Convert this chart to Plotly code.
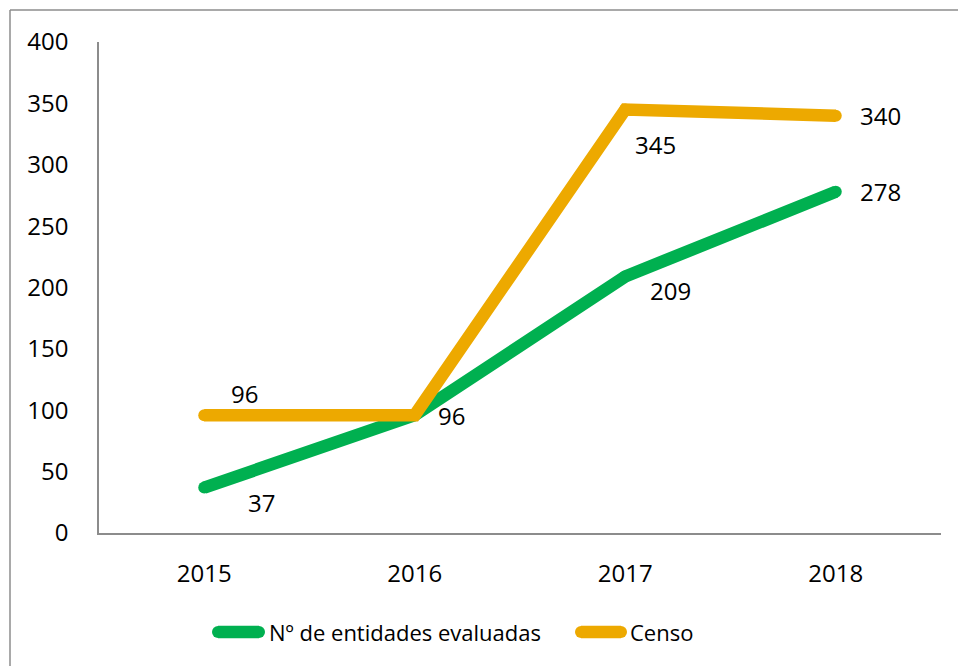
import plotly.graph_objects as go

years = ["2015", "2016", "2017", "2018"]
evaluadas = [37, 96, 209, 278]
censo = [96, 96, 345, 340]
y_ticks = [0, 50, 100, 150, 200, 250, 300, 350, 400]
series_names = ["Nº de entidades evaluadas", "Censo"]

green = "#00B050"
orange = "#EDA900"
font = "Open Sans"
frame_col = "#8c8c8c"

# plot area in screen px: x 99..941, y 42..533
PX0, PX1, PY0, PY1 = 99, 941, 42, 533


def px_x(p):
    return (p - PX0) / (PX1 - PX0)


def px_y(p):
    return (PY1 - p) / (PY1 - PY0)


fig = go.Figure()
fig.add_trace(go.Scatter(x=years, y=evaluadas, mode="lines+markers", name=series_names[0],
                         line=dict(color=green, width=12.5), marker=dict(color=green, size=12)))
fig.add_trace(go.Scatter(x=years, y=censo, mode="lines+markers", name=series_names[1],
                         line=dict(color=orange, width=12.5), marker=dict(color=orange, size=12)))

# label offsets (px)
g_off = [(57, -15), (37, 0), (45, -14), (45, 0)]
o_off = [(40, 22), (37, 0), (30, -35), (45, 0)]
for i, yr in enumerate(years):
    fig.add_annotation(x=i, y=evaluadas[i], text=str(evaluadas[i]), showarrow=False,
                       xshift=g_off[i][0], yshift=g_off[i][1], font=dict(size=24, color="black", family=font))
    if i != 1:
        fig.add_annotation(x=i, y=censo[i], text=str(censo[i]), showarrow=False,
                           xshift=o_off[i][0], yshift=o_off[i][1], font=dict(size=24, color="black", family=font))

# outer frame (left and top edges visible)
fig.add_shape(type="line", xref="paper", yref="paper", x0=px_x(10), x1=px_x(10),
              y0=px_y(10), y1=px_y(700), line=dict(color=frame_col, width=1.5))
fig.add_shape(type="line", xref="paper", yref="paper", x0=px_x(10), x1=px_x(1000),
              y0=px_y(10), y1=px_y(10), line=dict(color=frame_col, width=1.5))

# custom legend
leg = [(212, 265, 267, green), (575, 627, 628, orange)]
for (lx0, lx1, tx, col), name in zip(leg, series_names):
    fig.add_shape(type="line", xref="paper", yref="paper", x0=px_x(lx0 + 6), x1=px_x(lx1 - 6),
                  y0=px_y(632), y1=px_y(632), line=dict(color=col, width=12.5))
    fig.add_shape(type="circle", xref="paper", yref="paper", x0=px_x(lx0), x1=px_x(lx0 + 12),
                  y0=px_y(626), y1=px_y(638), line=dict(width=0), fillcolor=col)
    fig.add_shape(type="circle", xref="paper", yref="paper", x0=px_x(lx1 - 12), x1=px_x(lx1),
                  y0=px_y(626), y1=px_y(638), line=dict(width=0), fillcolor=col)
    fig.add_annotation(xref="paper", yref="paper", x=px_x(tx), y=px_y(632), text=name,
                       showarrow=False, xanchor="left", yanchor="middle",
                       font=dict(size=22, color="black", family=font))

fig.update_layout(
    width=958, height=666,
    margin=dict(l=99, r=17, t=42, b=133),
    paper_bgcolor="white", plot_bgcolor="white",
    font=dict(family=font, size=24, color="black"),
    showlegend=False,
    hovermode=False,
)
fig.update_xaxes(type="category", range=[-0.5, 3.5], showline=True, linecolor=frame_col, linewidth=1.5,
                 showgrid=False, ticks="", ticklabelstandoff=18, tickfont=dict(size=24))
fig.update_yaxes(range=[0, 400], tickvals=y_ticks, showline=True, linecolor=frame_col, linewidth=1.5,
                 showgrid=False, ticks="", zeroline=False, ticklabelstandoff=24, tickfont=dict(size=24))

fig.write_html("out.html", config={"displayModeBar": False},
               post_script="document.body.style.margin='0';document.body.style.overflow='hidden';")
